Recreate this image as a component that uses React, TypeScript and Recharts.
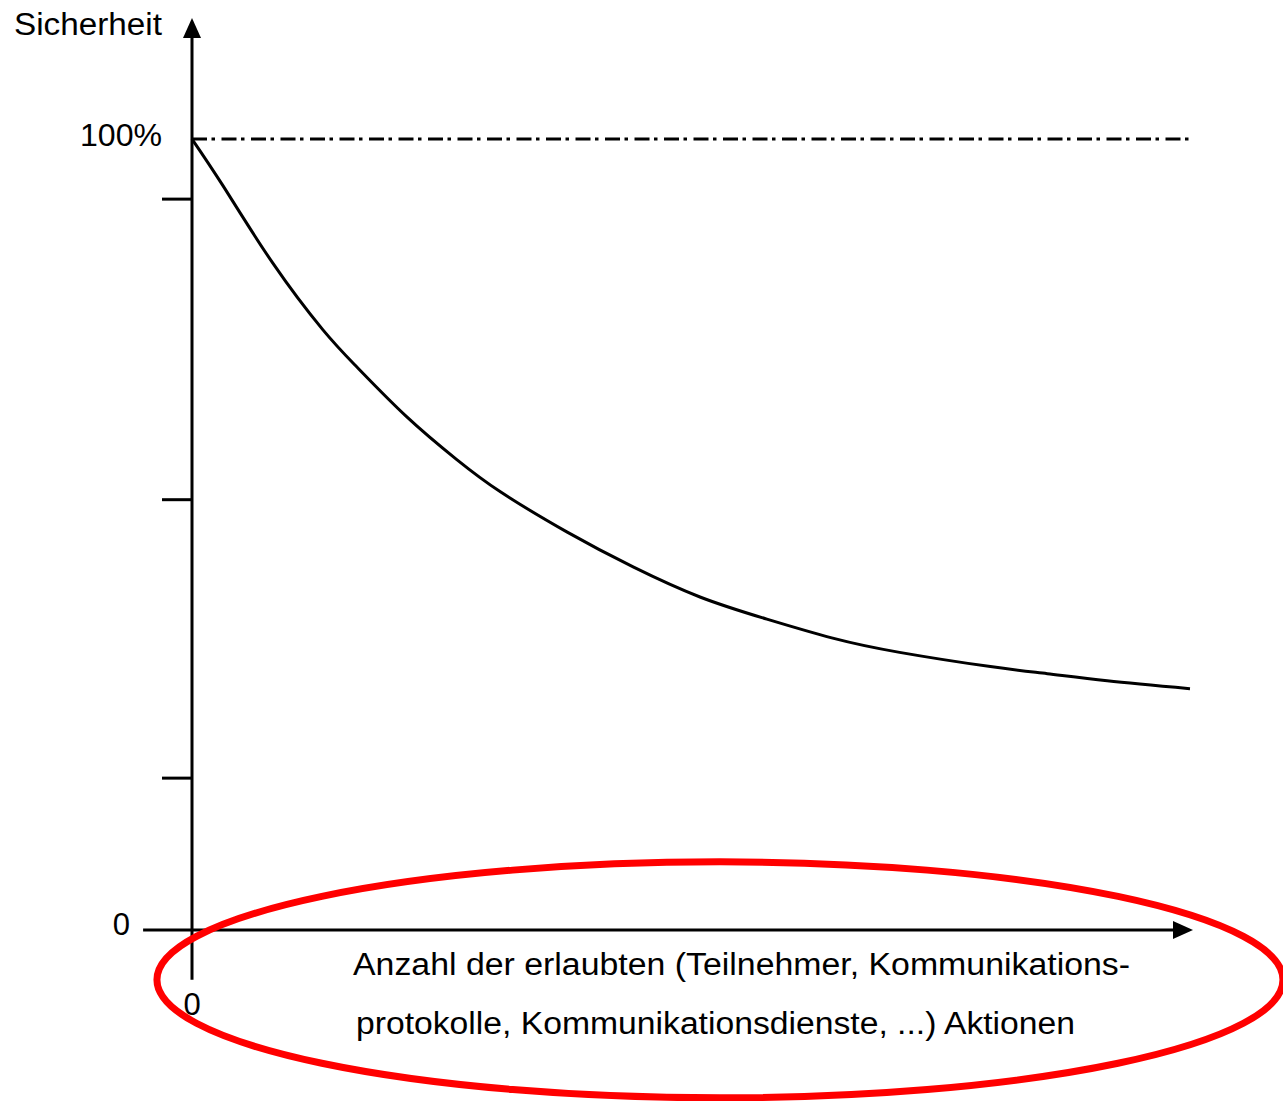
import React from 'react';
import { LineChart, Line, XAxis, YAxis, ReferenceLine, ReferenceDot } from 'recharts';

// curve: x = actions (0..100), y = security in %
const actions = [0, 3.1, 8.1, 13.1, 16.5, 21.5, 26.5, 30.9, 37.6, 44.2, 50.9, 57.6, 64.2, 70.9, 80.0, 85.7, 91.7, 100];
const security = [100, 94.1, 84.3, 75.9, 71.2, 64.9, 59.5, 55.4, 50.3, 45.9, 42.1, 39.3, 36.9, 35.1, 33.3, 32.4, 31.5, 30.5];

const yTicks = [0, 19.2, 54.4, 92.4, 100];
const xTicks = [0];

const yTitle = 'Sicherheit';
const xTitleLines = [
  'Anzahl der erlaubten (Teilnehmer, Kommunikations-',
  'protokolle, Kommunikationsdienste, ...) Aktionen',
];

const data = actions.map((x, i) => ({ x, y: security[i] }));

const FONT = '"Liberation Sans", Arial, sans-serif';
const FS = 31;

const YTick = (props: any) => {
  const { x, y, payload } = props;
  if (payload.value === 100) {
    return (
      <text x={x - 30} y={y + 7} textAnchor="end" fontFamily={FONT} fontSize={FS} fill="#000"
        textLength={82} lengthAdjust="spacingAndGlyphs">
        100%
      </text>
    );
  }
  if (payload.value === 0) {
    return (
      <text x={x - 62} y={y + 5} textAnchor="end" fontFamily={FONT} fontSize={FS} fill="#000">
        0
      </text>
    );
  }
  return <line x1={x - 30} x2={x} y1={y} y2={y} stroke="#000" strokeWidth={3} />;
};

const XTick = (props: any) => {
  const { x, y, payload } = props;
  return (
    <text x={x} y={y + 85} textAnchor="middle" fontFamily={FONT} fontSize={FS} fill="#000">
      {payload.value}
    </text>
  );
};

const UpArrow = (props: any) => {
  const { cx, cy } = props;
  return <path d={`M${cx},${cy} L${cx - 9},${cy + 20} L${cx + 9},${cy + 20} Z`} fill="#000" />;
};

const RightArrow = (props: any) => {
  const { cx, cy } = props;
  return <path d={`M${cx},${cy} L${cx - 20},${cy - 9} L${cx - 20},${cy + 9} Z`} fill="#000" />;
};

const Highlight = (props: any) => {
  const { cx, cy } = props;
  return <ellipse cx={cx} cy={cy} rx={563} ry={118} fill="none" stroke="#ff0000" strokeWidth={7} />;
};

export default function App() {
  return (
    <div style={{ position: 'absolute', left: 0, top: 0, background: '#fff' }}>
      <LineChart
        width={1283}
        height={1101}
        data={data}
        margin={{ top: 139, right: 93, bottom: 111, left: 92 }}
      >
        <XAxis
          dataKey="x"
          type="number"
          domain={[0, 100]}
          ticks={xTicks}
          axisLine={false}
          tickLine={false}
          tickSize={0}
          tickMargin={0}
          height={60}
          tick={<XTick />}
          label={(p: any) => {
            const vb = p.viewBox;
            return (
              <text fontFamily={FONT} fontSize={FS} fill="#000">
                <tspan x={vb.x + 161} y={vb.y + 45} textLength={777} lengthAdjust="spacingAndGlyphs">
                  {xTitleLines[0]}
                </tspan>
                <tspan x={vb.x + 164} y={vb.y + 104} textLength={719} lengthAdjust="spacingAndGlyphs">
                  {xTitleLines[1]}
                </tspan>
              </text>
            );
          }}
        />
        <YAxis
          type="number"
          domain={[0, 100]}
          ticks={yTicks}
          axisLine={false}
          tickLine={false}
          tickSize={0}
          tickMargin={0}
          width={100}
          tick={<YTick />}
          label={(p: any) => {
            const vb = p.viewBox;
            return (
              <text
                x={vb.x + vb.width - 30}
                y={vb.y - 104}
                textAnchor="end"
                fontFamily={FONT}
                fontSize={FS}
                fill="#000"
                textLength={148}
                lengthAdjust="spacingAndGlyphs"
              >
                {yTitle}
              </text>
            );
          }}
        />

        {/* 100% dash-dot line */}
        <ReferenceLine y={100} stroke="#000" strokeWidth={3} strokeDasharray="15 4.5 3.5 6.5" />

        {/* axes with arrows */}
        <ReferenceLine
          segment={[{ x: 0, y: -6.3 }, { x: 0, y: 113 }]}
          stroke="#000"
          strokeWidth={3}
          ifOverflow="visible"
        />
        <ReferenceLine
          segment={[{ x: -4.9, y: 0 }, { x: 98.5, y: 0 }]}
          stroke="#000"
          strokeWidth={3}
          ifOverflow="visible"
        />
        <ReferenceDot x={0} y={115.3} ifOverflow="visible" shape={<UpArrow />} />
        <ReferenceDot x={100.3} y={0} ifOverflow="visible" shape={<RightArrow />} />

        <Line
          type="natural"
          dataKey="y"
          stroke="#000"
          strokeWidth={3}
          dot={false}
          activeDot={false}
          isAnimationActive={false}
        />

        <ReferenceDot x={52.9} y={-6.3} ifOverflow="visible" shape={<Highlight />} />
      </LineChart>
    </div>
  );
}
